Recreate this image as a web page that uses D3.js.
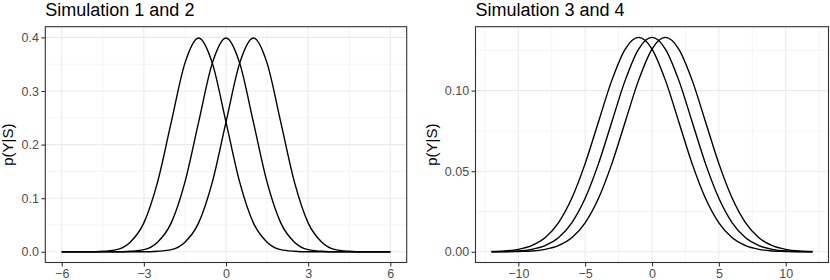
<!DOCTYPE html>
<html>
<head>
<meta charset="utf-8">
<script src="https://cdn.jsdelivr.net/npm/d3@7"></script>
<style>
	body { margin: 0; background: #fff; }
	svg { display: block; }
	text { font-family: "Liberation Sans", Arial, sans-serif; }
</style>
</head>
<body>
<div id="chart"></div>
<script>
/* global d3 */

// ---- data ----
var leftTitle = "Simulation 1 and 2",
	rightTitle = "Simulation 3 and 4",
	yLabel = "p(Y|S)";

var leftX = [-6, -5.5, -5, -4.5, -4, -3.5, -3, -2.5, -2, -1.5, -1, -0.5, 0,
	0.5, 1, 1.5, 2, 2.5, 3, 3.5, 4, 4.5, 5, 5.5, 6];
var sim1A = [0, 0, 0, 0.001, 0.004, 0.018, 0.054, 0.130, 0.242, 0.352, 0.399, 0.352, 0.242,
	0.130, 0.054, 0.018, 0.004, 0.001, 0, 0, 0, 0, 0, 0, 0];
var sim1B = [0, 0, 0, 0, 0, 0.001, 0.004, 0.018, 0.054, 0.130, 0.242, 0.352, 0.399,
	0.352, 0.242, 0.130, 0.054, 0.018, 0.004, 0.001, 0, 0, 0, 0, 0];
var sim1C = [0, 0, 0, 0, 0, 0, 0, 0.001, 0.004, 0.018, 0.054, 0.130, 0.242,
	0.352, 0.399, 0.352, 0.242, 0.130, 0.054, 0.018, 0.004, 0.001, 0, 0, 0];
var leftXTicks = [-6, -3, 0, 3, 6],
	leftXMinor = [-4.5, -1.5, 1.5, 4.5],
	leftYTicks = [0, 0.1, 0.2, 0.3, 0.4],
	leftYMinor = [0.05, 0.15, 0.25, 0.35];

var rightX = [-12, -11, -10, -9, -8, -7, -6, -5, -4, -3, -2, -1, 0,
	1, 2, 3, 4, 5, 6, 7, 8, 9, 10, 11, 12];
var sim3A = [0.0002, 0.0005, 0.0015, 0.0038, 0.0087, 0.0180, 0.0332, 0.0547, 0.0807, 0.1065, 0.1258, 0.1330, 0.1258,
	0.1065, 0.0807, 0.0547, 0.0332, 0.0180, 0.0087, 0.0038, 0.0015, 0.0005, 0.0002, 0, 0];
var sim3B = [0, 0.0002, 0.0005, 0.0015, 0.0038, 0.0087, 0.0180, 0.0332, 0.0547, 0.0807, 0.1065, 0.1258, 0.1330,
	0.1258, 0.1065, 0.0807, 0.0547, 0.0332, 0.0180, 0.0087, 0.0038, 0.0015, 0.0005, 0.0002, 0];
var sim3C = [0, 0, 0.0002, 0.0005, 0.0015, 0.0038, 0.0087, 0.0180, 0.0332, 0.0547, 0.0807, 0.1065, 0.1258,
	0.1330, 0.1258, 0.1065, 0.0807, 0.0547, 0.0332, 0.0180, 0.0087, 0.0038, 0.0015, 0.0005, 0.0002];
var rightXTicks = [-10, -5, 0, 5, 10],
	rightXMinor = [-12.5, -7.5, -2.5, 2.5, 7.5, 12.5],
	rightYTicks = [0, 0.05, 0.10],
	rightYMinor = [0.025, 0.075, 0.125];

var svg = d3.select("#chart")
	.append("svg")
	.attr("width", 830)
	.attr("height", 280);

function panel(opts) {
	var x = d3.scaleLinear().domain(opts.xDomain).range([opts.left, opts.right]),
		y = d3.scaleLinear().domain(opts.yDomain).range([opts.bottom, opts.top]),
		g = svg.append("g");

	g.append("rect")
		.attr("x", opts.left)
		.attr("y", opts.top)
		.attr("width", opts.right - opts.left)
		.attr("height", opts.bottom - opts.top)
		.attr("fill", "#fff");

	// minor then major grid
	g.selectAll(".gxm").data(opts.xMinor).enter().append("line")
		.attr("x1", function(d) { return x(d); }).attr("x2", function(d) { return x(d); })
		.attr("y1", opts.top).attr("y2", opts.bottom)
		.attr("stroke", "#ebebeb").attr("stroke-width", 0.55);
	g.selectAll(".gym").data(opts.yMinor).enter().append("line")
		.attr("y1", function(d) { return y(d); }).attr("y2", function(d) { return y(d); })
		.attr("x1", opts.left).attr("x2", opts.right)
		.attr("stroke", "#ebebeb").attr("stroke-width", 0.55);
	g.selectAll(".gx").data(opts.xTicks).enter().append("line")
		.attr("x1", function(d) { return x(d); }).attr("x2", function(d) { return x(d); })
		.attr("y1", opts.top).attr("y2", opts.bottom)
		.attr("stroke", "#ebebeb").attr("stroke-width", 1.1);
	g.selectAll(".gy").data(opts.yTicks).enter().append("line")
		.attr("y1", function(d) { return y(d); }).attr("y2", function(d) { return y(d); })
		.attr("x1", opts.left).attr("x2", opts.right)
		.attr("stroke", "#ebebeb").attr("stroke-width", 1.1);

	var line = d3.line()
		.x(function(d) { return x(d[0]); })
		.y(function(d) { return y(d[1]); })
		.curve(d3.curveMonotoneX);

	opts.series.forEach(function(s) {
		g.append("path")
			.datum(d3.zip(opts.xs, s))
			.attr("fill", "none")
			.attr("stroke", "#000")
			.attr("stroke-width", 1.4)
			.attr("d", line);
	});

	g.append("rect")
		.attr("x", opts.left)
		.attr("y", opts.top)
		.attr("width", opts.right - opts.left)
		.attr("height", opts.bottom - opts.top)
		.attr("fill", "none")
		.attr("stroke", "#333")
		.attr("stroke-width", 1.1);

	var xAxis = d3.axisBottom(x).tickValues(opts.xTicks).tickSize(3.9).tickPadding(2.5)
			.tickFormat(opts.xFormat),
		yAxis = d3.axisLeft(y).tickValues(opts.yTicks).tickSize(3.9).tickPadding(2.5)
			.tickFormat(opts.yFormat);

	g.append("g")
		.attr("transform", "translate(0," + opts.bottom + ")")
		.call(xAxis)
		.call(styleAxis);
	g.append("g")
		.attr("transform", "translate(" + opts.left + ",0)")
		.call(yAxis)
		.call(styleAxis);

	g.append("text")
		.attr("x", opts.left)
		.attr("y", 16.4)
		.attr("font-size", 18)
		.attr("fill", "#000")
		.text(opts.title);

	g.append("text")
		.attr("transform", "translate(" + opts.yLabelX + "," + ((opts.top + opts.bottom) / 2) + ") rotate(-90)")
		.attr("text-anchor", "middle")
		.attr("font-size", 15)
		.attr("fill", "#000")
		.text(yLabel);
}

function styleAxis(g) {
	g.select(".domain").remove();
	g.selectAll(".tick line").attr("stroke", "#333").attr("stroke-width", 1.1);
	g.selectAll(".tick text")
		.attr("fill", "#4d4d4d")
		.attr("font-size", 12.5)
		.attr("font-family", "Liberation Sans, Arial, sans-serif");
}

var minus = function(f) {
	return function(d) { return f(d).replace("-", "\u2212"); };
};

panel({
	title: leftTitle,
	left: 45.3, right: 406.7, top: 26.7, bottom: 262.5,
	xDomain: [-6.6, 6.6], yDomain: [-0.02, 0.42],
	xs: leftX, series: [sim1A, sim1B, sim1C],
	xTicks: leftXTicks, xMinor: leftXMinor, yTicks: leftYTicks, yMinor: leftYMinor,
	xFormat: minus(d3.format("d")), yFormat: d3.format(".1f"),
	yLabelX: 12.5
});

panel({
	title: rightTitle,
	left: 475.5, right: 828.5, top: 26.7, bottom: 262.5,
	xDomain: [-13.2, 13.2], yDomain: [-0.00665, 0.13965],
	xs: rightX, series: [sim3A, sim3B, sim3C],
	xTicks: rightXTicks, xMinor: rightXMinor, yTicks: rightYTicks, yMinor: rightYMinor,
	xFormat: minus(d3.format("d")), yFormat: d3.format(".2f"),
	yLabelX: 436.5
});
</script>
</body>
</html>
